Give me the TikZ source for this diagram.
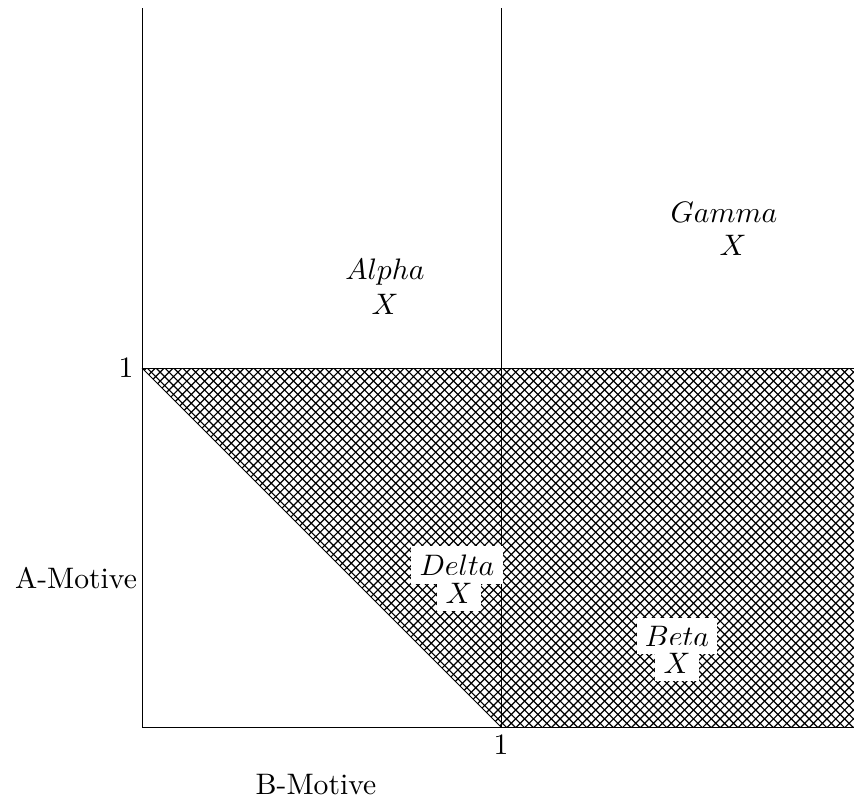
\documentclass[tikz,border=0pt]{standalone}
\usetikzlibrary{patterns}
\begin{document}
\begin{tikzpicture}[x=0.3375pt,y=-0.3375pt,
  axis/.style={line width=0.3pt},
  lbl/.style={inner sep=1.5pt},
  wlbl/.style={inner sep=2.8pt,fill=white}]
\useasboundingbox (0,0) rectangle (854,799);
\coordinate (O) at (142,727);
\coordinate (top) at (142,8);
\coordinate (xend) at (854,727);
\coordinate (A1) at (142,368);
\coordinate (B1) at (501,727);
\coordinate (R1) at (854,368);
\coordinate (Vtop) at (501,8);
\coordinate (Rb) at (854,727);
\fill[pattern=crosshatch] (A1) -- (R1) -- (Rb) -- (B1) -- cycle;
\draw[axis] (top) -- (O) -- (xend);
\draw[axis] (Vtop) -- (B1);
\draw[axis] (A1) -- (R1);
\draw[axis] (A1) -- (B1);
\node[lbl] (one1) at (126,368) {1};
\node[lbl] (one2) at (501,745) {1};
\node[lbl] (am) at (76,578) {A-Motive};
\node[lbl] (bm) at (316,785) {B-Motive};
\node[lbl] (alpha) at (385,272) {$Alpha$};
\node[lbl] (alx) at (385,304) {$X$};
\node[lbl] (gamma) at (724,212) {$Gamma$};
\node[lbl] (gax) at (733,245) {$X$};
\node[wlbl] (delta) at (457,565) {$Delta$};
\node[wlbl] (dex) at (459,593) {$X$};
\node[wlbl] (beta) at (677,636) {$Beta$};
\node[wlbl] (bex) at (677,663) {$X$};
\end{tikzpicture}
\end{document}
